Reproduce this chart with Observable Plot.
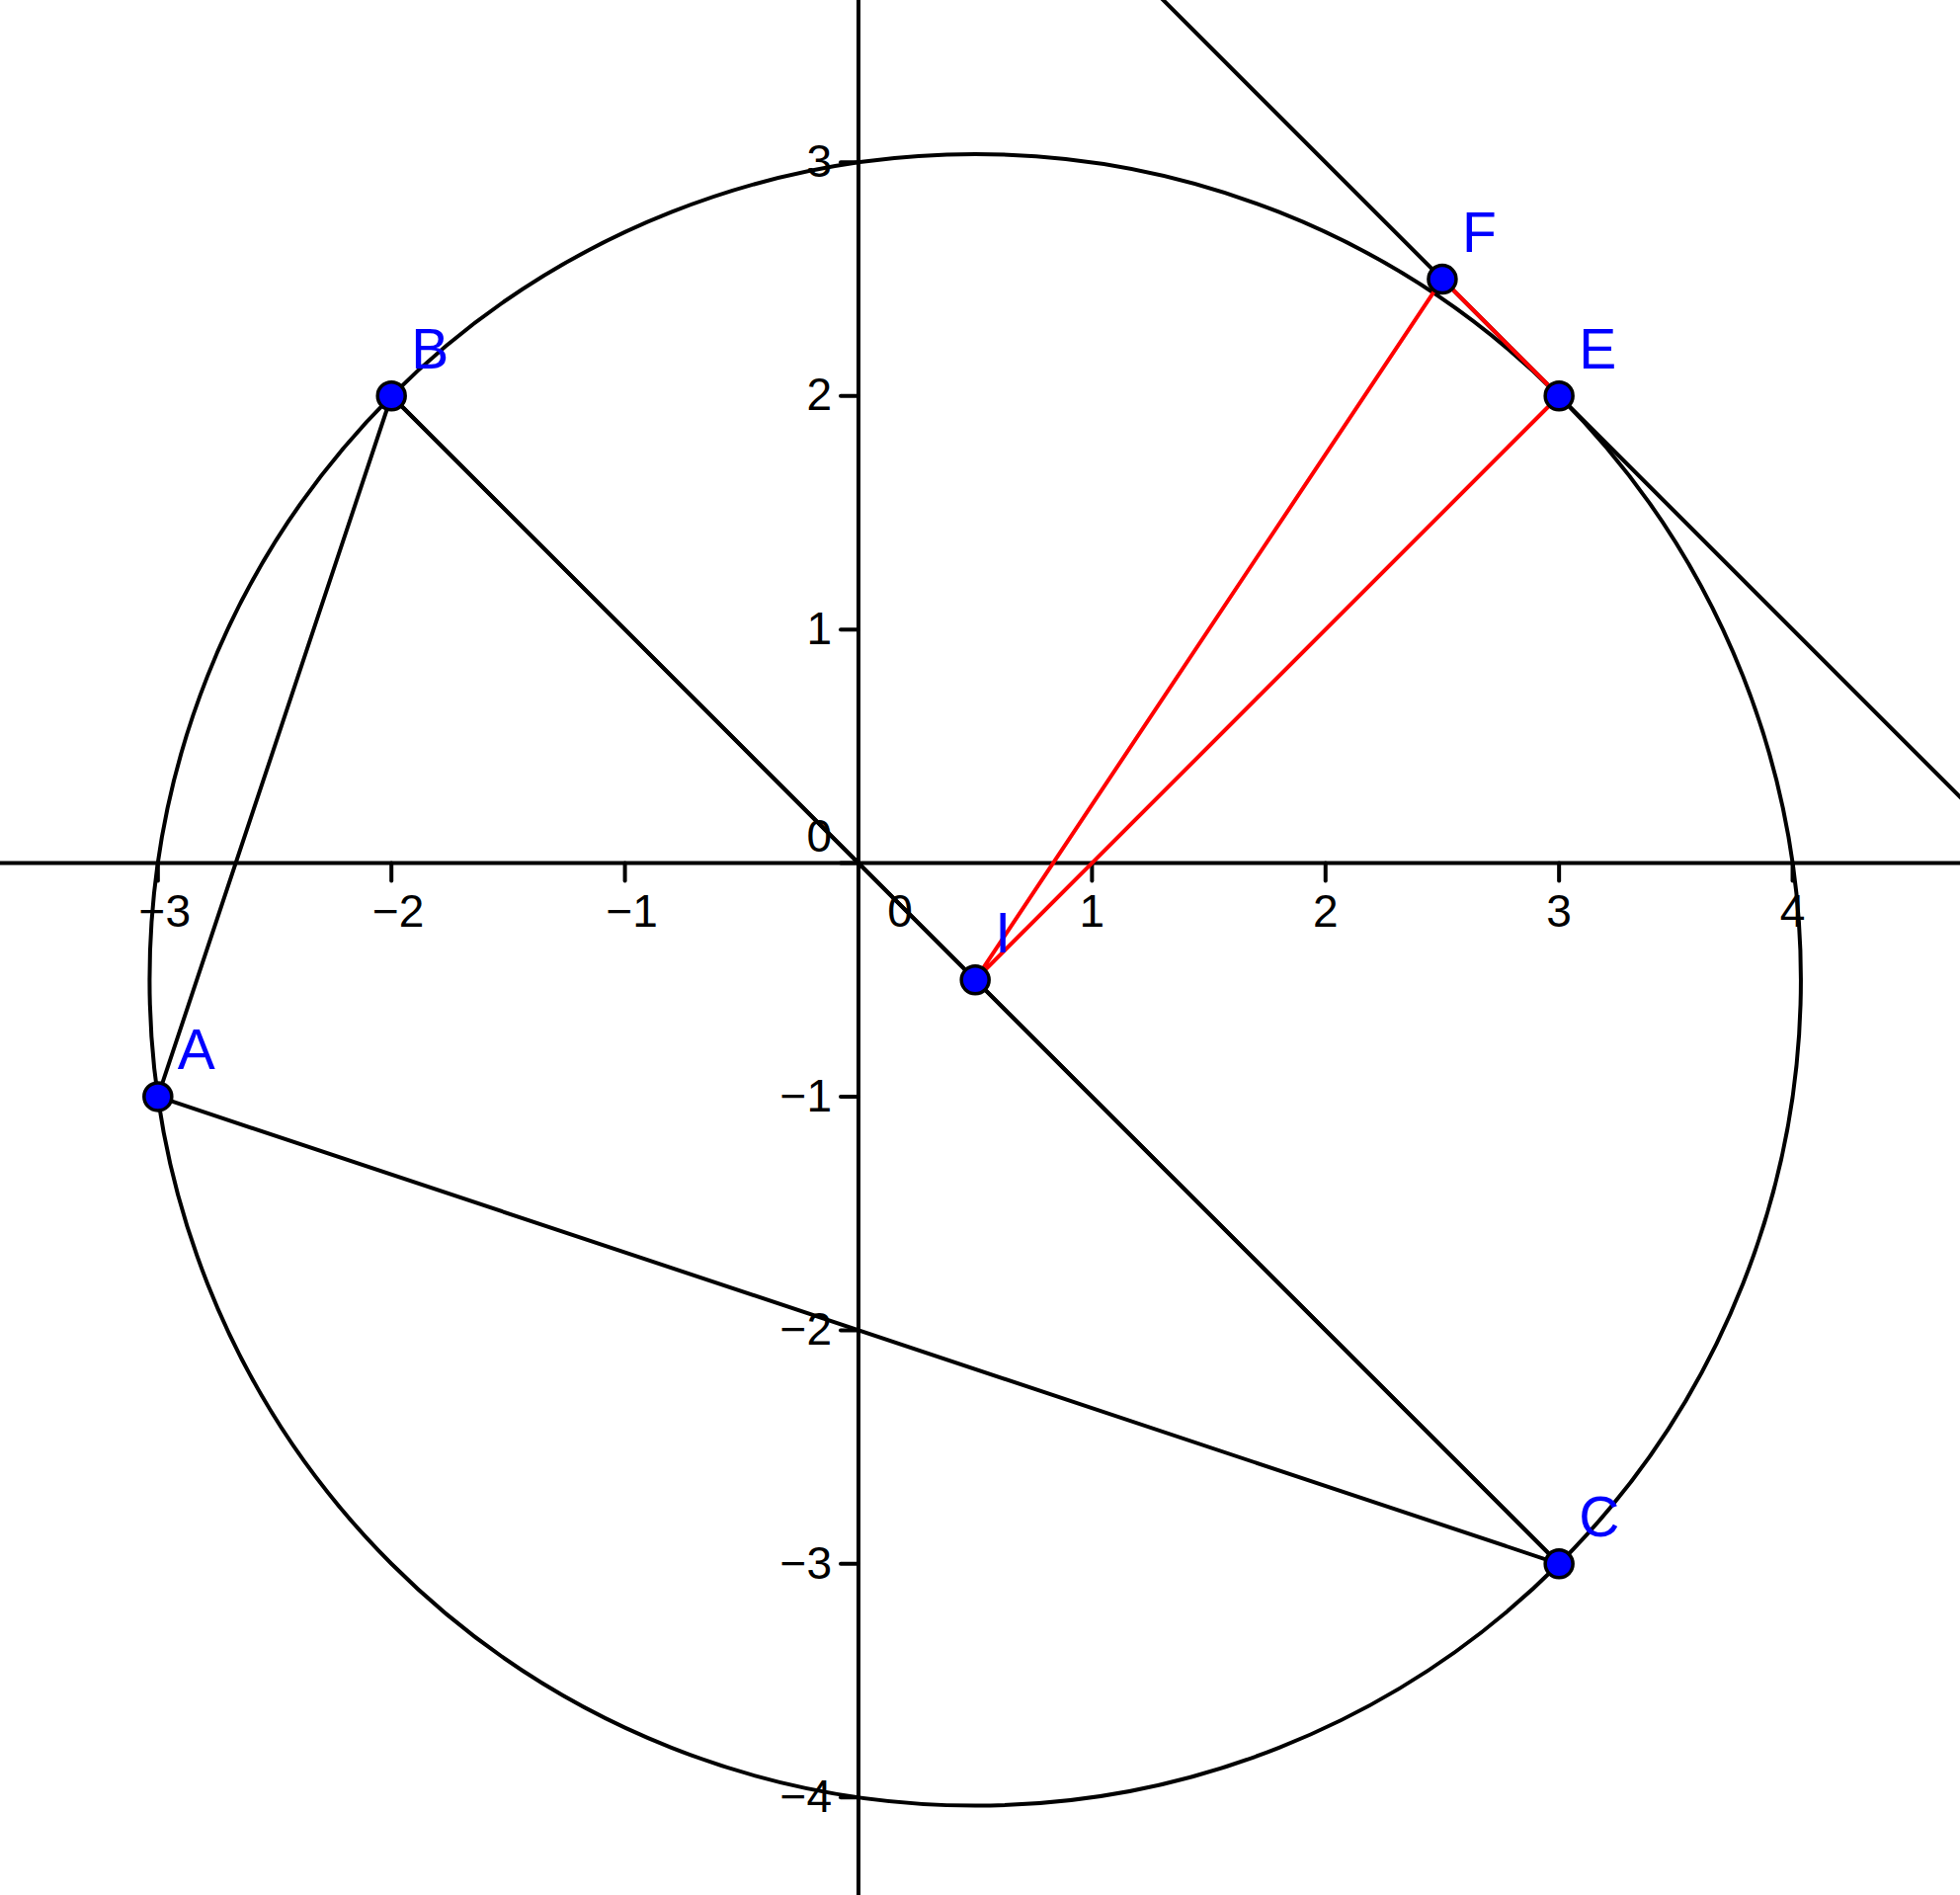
<!DOCTYPE html>
<html>
<head>
<meta charset="utf-8">
<script src="https://cdn.jsdelivr.net/npm/d3@7"></script>
<script src="https://cdn.jsdelivr.net/npm/@observablehq/plot@0.6"></script>
<style>
  body { margin: 0; background: #fff; }
</style>
</head>
<body>
<div id="chart"></div>
<script>
// points of the construction
var names = ["A", "B", "C", "I", "E", "F"];
var px = [-3, -2, 3, 0.5, 3, 2.5];
var py = [-1, 2, -3, -0.5, 2, 2.5];

// triangle ABC, red triangle IEF
var triangle = ["A", "B", "C", "A"];
var redTriangle = ["I", "F", "E", "I"];

var xTicks = [-3, -2, -1, 0, 1, 2, 3, 4];
var yTicks = [-4, -3, -2, -1, 0, 1, 2, 3];

var xDomain = [-3.674, 4.719];
var yDomain = [-4.42, 3.693];

var width = 1984;
var height = 1918;

var pts = names.map((n, i) => ({ name: n, x: px[i], y: py[i] }));
var P = Object.fromEntries(pts.map((d) => [d.name, d]));

// circle centered at I through A (and B, C, E)
var radius = Math.hypot(P.A.x - P.I.x, P.A.y - P.I.y);
var radiusPx = (radius * width) / (xDomain[1] - xDomain[0]);

// line through F and E, run across the whole frame
var slope = (P.E.y - P.F.y) / (P.E.x - P.F.x);
var fe = xDomain.map((x) => ({ x: x, y: P.F.y + slope * (x - P.F.x) }));

var fmt = (d) => (d < 0 ? "\u2212" + Math.abs(d) : String(d));
var tickLine = {
  draw(context, l) {
    context.moveTo(0, 0);
    context.lineTo(0, -l);
  },
};
var labelStyle = { fontSize: 46, fill: "black", lineAnchor: "middle" };

var plot = Plot.plot({
  width: width,
  height: height,
  margin: 0,
  x: { domain: xDomain, axis: null },
  y: { domain: yDomain, axis: null },
  style: {
    background: "white",
    fontFamily: "'Liberation Sans', Arial, sans-serif",
  },
  marks: [
    Plot.ruleY([0], { stroke: "black", strokeWidth: 4 }),
    Plot.ruleX([0], { stroke: "black", strokeWidth: 4 }),
    Plot.vector(xTicks, {
      x: (d) => d,
      y: 0,
      length: 18,
      rotate: 180,
      anchor: "start",
      shape: tickLine,
      stroke: "black",
      strokeWidth: 4,
    }),
    Plot.vector(yTicks, {
      x: 0,
      y: (d) => d,
      length: 18,
      rotate: 270,
      anchor: "start",
      shape: tickLine,
      stroke: "black",
      strokeWidth: 4,
    }),
    // x labels: negatives sit a bit right of their tick
    Plot.text(xTicks.filter((d) => d < 0), {
      x: (d) => d,
      y: 0,
      text: fmt,
      dx: 7,
      dy: 50,
      ...labelStyle,
    }),
    Plot.text(xTicks.filter((d) => d > 0), {
      x: (d) => d,
      y: 0,
      text: fmt,
      dy: 50,
      ...labelStyle,
    }),
    Plot.text(xTicks.filter((d) => d === 0), {
      x: (d) => d,
      y: 0,
      text: fmt,
      dx: 42,
      dy: 50,
      ...labelStyle,
    }),
    Plot.text(yTicks.filter((d) => d !== 0), {
      x: 0,
      y: (d) => d,
      text: fmt,
      dx: -27,
      textAnchor: "end",
      ...labelStyle,
    }),
    Plot.text(yTicks.filter((d) => d === 0), {
      x: 0,
      y: (d) => d,
      text: fmt,
      dx: -27,
      dy: -26,
      textAnchor: "end",
      ...labelStyle,
    }),
    Plot.dot([P.I], {
      x: "x",
      y: "y",
      r: radiusPx,
      fill: "none",
      stroke: "black",
      strokeWidth: 4,
    }),
    Plot.line(fe, { x: "x", y: "y", stroke: "black", strokeWidth: 4, clip: true }),
    Plot.line(triangle.map((n) => P[n]), { x: "x", y: "y", stroke: "black", strokeWidth: 4 }),
    Plot.line([P.B, P.C], { x: "x", y: "y", stroke: "black", strokeWidth: 4 }),
    Plot.line(redTriangle.map((n) => P[n]), { x: "x", y: "y", stroke: "#ff0000", strokeWidth: 4 }),
    Plot.dot(pts, {
      x: "x",
      y: "y",
      r: 14,
      fill: "#0000ff",
      stroke: "black",
      strokeWidth: 3.5,
    }),
    Plot.text(pts, {
      x: "x",
      y: "y",
      text: "name",
      dx: 20,
      dy: -28,
      fontSize: 57,
      fill: "#0000ff",
      textAnchor: "start",
      lineAnchor: "bottom",
    }),
  ],
});

document.getElementById("chart").append(plot);
</script>
</body>
</html>
